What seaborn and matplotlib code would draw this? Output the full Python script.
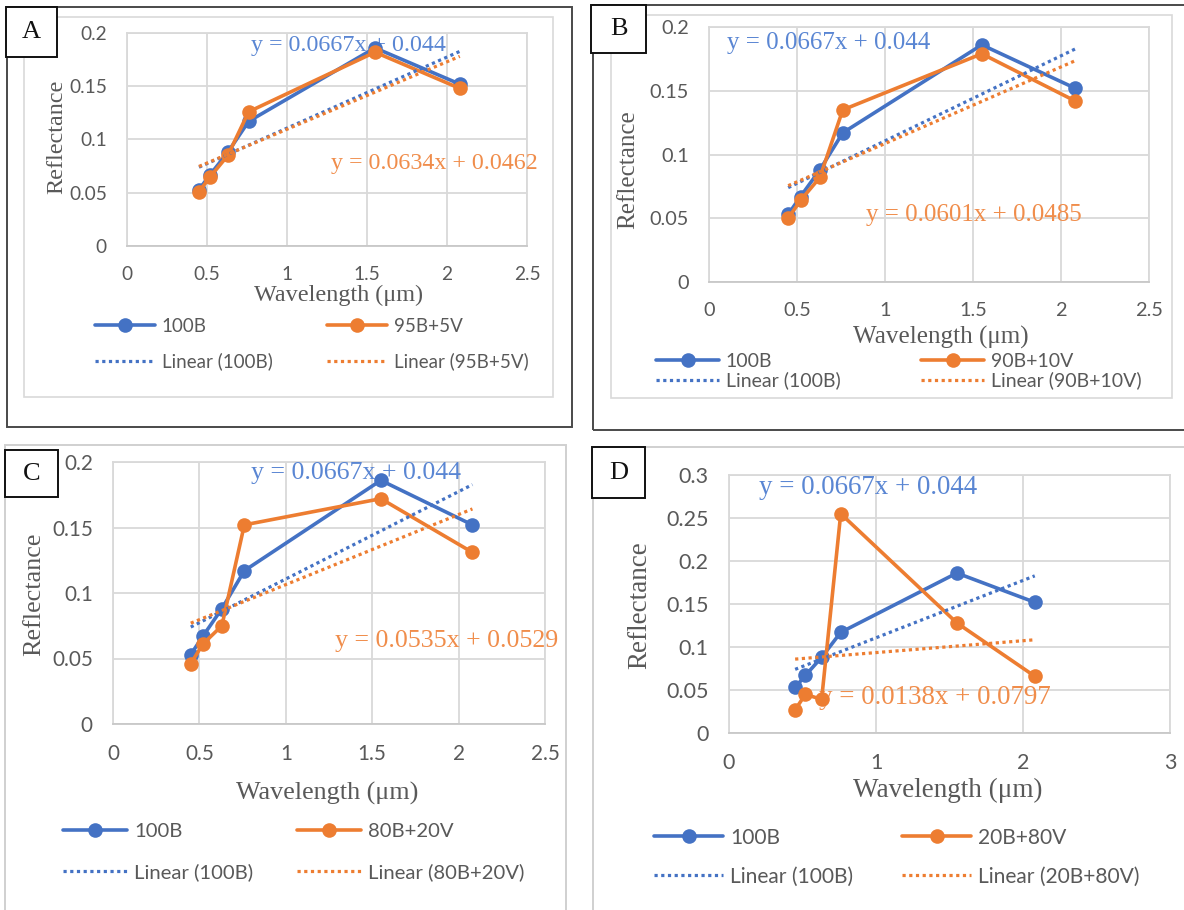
import matplotlib
matplotlib.use("Agg")
import matplotlib.pyplot as plt
import seaborn as sns
from matplotlib.patches import Rectangle
from matplotlib.ticker import FuncFormatter, FixedLocator

# ---------------- data ----------------
wavelength = [0.45, 0.52, 0.63, 0.76, 1.55, 2.08]
refl_100B = [0.053, 0.067, 0.088, 0.117, 0.186, 0.152]
refl_95B_5V = [0.051, 0.065, 0.085, 0.126, 0.182, 0.148]
refl_90B_10V = [0.050, 0.064, 0.082, 0.135, 0.179, 0.142]
refl_80B_20V = [0.046, 0.061, 0.075, 0.152, 0.172, 0.131]
refl_20B_80V = [0.027, 0.045, 0.039, 0.255, 0.128, 0.066]
mix_names = ["95B+5V", "90B+10V", "80B+20V", "20B+80V"]
mix_values = [refl_95B_5V, refl_90B_10V, refl_80B_20V, refl_20B_80V]
panel_letters = ["A", "B", "C", "D"]
slope_100B, intercept_100B = "0.0667", "0.044"
mix_slopes = ["0.0634", "0.0601", "0.0535", "0.0138"]
mix_intercepts = ["0.0462", "0.0485", "0.0529", "0.0797"]
x_ticks_abc = [0, 0.5, 1, 1.5, 2, 2.5]
y_ticks_abc = [0, 0.05, 0.1, 0.15, 0.2]
x_ticks_d = [0, 1, 2, 3]
y_ticks_d = [0, 0.05, 0.1, 0.15, 0.2, 0.25, 0.3]
x_title = "Wavelength (μm)"
y_title = "Reflectance"

# ---------------- style ----------------
BLUE = "#4472C4"
ORANGE = "#ED7D31"
BLUE_TXT = "#5a86d3"
ORANGE_TXT = "#f08d4b"
GREY_TXT = "#595959"
GRID = "#d9d9d9"
SANS = ["Lato", "DejaVu Sans"]
SERIF = ["Liberation Serif", "DejaVu Serif"]

W, H = 1184, 910
sns.set_theme(style="white")
plt.rcParams["font.family"] = SANS

fig = plt.figure(figsize=(W / 100, H / 100), dpi=100)
fig.patch.set_facecolor("white")


def fx(x):
    return x / W


def fy(y):
    return 1 - y / H


def frame(x0, y0, x1, y1, color, lw, fill=False, z=1):
    fig.patches.append(Rectangle((fx(x0), fy(y1)), fx(x1) - fx(x0), fy(y0) - fy(y1),
                                 transform=fig.transFigure, fill=fill, facecolor="white",
                                 edgecolor=color, linewidth=lw, zorder=z))


# panel layouts (pixels)
layouts = [
    dict(ax=(127, 33, 527, 246), xt=x_ticks_abc, yt=y_ticks_abc, s=1.0,
         xlab=(338, 295), ylab=(57, 137), eq1=(251, 45), eq2=(331, 163),
         leg=(95, 327, 344), lsp=0.95, hl=60,
         box=(6, 7, 57, 57)),
    dict(ax=(709, 27, 1149, 282), xt=x_ticks_abc, yt=y_ticks_abc, s=1.04,
         xlab=(941, 337), ylab=(628, 170), eq1=(727, 43), eq2=(866, 215),
         leg=(656, 921, 371), lsp=0.1, hl=63,
         box=(591, 5, 646, 53)),
    dict(ax=(113, 462, 545, 724), xt=x_ticks_abc, yt=y_ticks_abc, s=1.08,
         xlab=(327, 793), ylab=(34, 594), eq1=(251, 473), eq2=(335, 641),
         leg=(63, 297, 852), lsp=1.15, hl=64,
         box=(5, 450, 58, 497)),
    dict(ax=(729, 475, 1170, 733), xt=x_ticks_d, yt=y_ticks_d, s=1.12,
         xlab=(948, 790), ylab=(640, 605), eq1=(759, 488), eq2=(819, 697),
         leg=(654, 902, 857), lsp=0.9, hl=69,
         box=(592, 447, 645, 498)),
]

# outer frames
frame(7, 7, 572, 427, "#4a4a4a", 1.4)
frame(24, 17, 553, 397, GRID, 1.2)
frame(593, 5, 1192, 430, "#4a4a4a", 1.4)
frame(611, 15, 1172, 398, GRID, 1.2)
frame(5, 445, 566, 915, "#d0d0d0", 1.4)
frame(593, 447, 1192, 915, "#d0d0d0", 1.4)

fmt = FuncFormatter(lambda v, p: "%g" % v)

for i, lay in enumerate(layouts):
    l, t, r, b = lay["ax"]
    s = lay["s"]
    ax = fig.add_axes([fx(l), fy(b), fx(r) - fx(l), fy(t) - fy(b)])
    ax.set_facecolor("white")
    xt, yt = lay["xt"], lay["yt"]
    ax.set_xlim(xt[0], xt[-1])
    ax.set_ylim(yt[0], yt[-1])
    ax.xaxis.set_major_locator(FixedLocator(xt))
    ax.yaxis.set_major_locator(FixedLocator(yt))
    ax.xaxis.set_major_formatter(fmt)
    ax.yaxis.set_major_formatter(fmt)
    ax.grid(True, color=GRID, linewidth=1.3, zorder=0)
    ax.set_axisbelow(True)
    for sp in ax.spines.values():
        sp.set_color(GRID)
        sp.set_linewidth(1.3)
    ax.spines["bottom"].set_color("#c8c8c8")
    ax.tick_params(length=0, pad=14.5, labelsize=13.8 * s, labelcolor=GREY_TXT)
    for lab in ax.get_xticklabels() + ax.get_yticklabels():
        lab.set_family(SANS)

    mix = mix_values[i]
    name = mix_names[i]

    # series lines
    sns.lineplot(x=wavelength, y=refl_100B, ax=ax, color=BLUE, linewidth=2.6,
                 marker="o", markersize=10.5, markeredgecolor=BLUE, markeredgewidth=0,
                 legend=False, zorder=4)
    h1 = ax.lines[-1]
    sns.lineplot(x=wavelength, y=mix, ax=ax, color=ORANGE, linewidth=2.6,
                 marker="o", markersize=10.5, markeredgecolor=ORANGE, markeredgewidth=0,
                 legend=False, zorder=5)
    h2 = ax.lines[-1]

    # linear trend lines from the displayed equations
    xs = [wavelength[0], wavelength[-1]]
    m0, b0 = float(slope_100B), float(intercept_100B)
    m1, b1 = float(mix_slopes[i]), float(mix_intercepts[i])
    dots = (0, (1, 1.1))
    sns.lineplot(x=xs, y=[m0 * xv + b0 for xv in xs], ax=ax, color=BLUE,
                 linewidth=2.3, linestyle=dots, legend=False, zorder=6)
    h3 = ax.lines[-1]
    sns.lineplot(x=xs, y=[m1 * xv + b1 for xv in xs], ax=ax, color=ORANGE,
                 linewidth=2.3, linestyle=dots, legend=False, zorder=6)
    h4 = ax.lines[-1]

    # equations
    ex, ey = lay["eq1"]
    ax.text(fx(ex), fy(ey), f"y = {slope_100B}x + {intercept_100B}", transform=fig.transFigure,
            ha="left", va="center", color=BLUE_TXT, fontsize=17.3 * s, family=SERIF,
            zorder=3, clip_on=False)
    ex, ey = lay["eq2"]
    ax.text(fx(ex), fy(ey), f"y = {mix_slopes[i]}x + {mix_intercepts[i]}", transform=fig.transFigure,
            ha="left", va="center", color=ORANGE_TXT, fontsize=17.3 * s, family=SERIF,
            zorder=3, clip_on=False)

    # axis titles
    ax.set_xlabel(x_title, fontsize=17.4 * s, color=GREY_TXT, family=SERIF, va="center", ha="center")
    ax.xaxis.set_label_coords(fx(lay["xlab"][0]), fy(lay["xlab"][1]), transform=fig.transFigure)
    ax.set_ylabel(y_title, fontsize=17.4 * s, color=GREY_TXT, family=SERIF, va="center", ha="center")
    ax.yaxis.set_label_coords(fx(lay["ylab"][0]), fy(lay["ylab"][1]), transform=fig.transFigure)

    # legends (two columns)
    lfs = 13.5 * s
    hl = lay["hl"] / (lfs * 100 / 72)
    c1, c2, cy = lay["leg"]
    for (xa, hs, labs) in [(c1, [h1, h3], ["100B", "Linear (100B)"]),
                           (c2, [h2, h4], [name, f"Linear ({name})"])]:
        fig.legend(hs, labs, loc="center left", bbox_to_anchor=(fx(xa), fy(cy)),
                   bbox_transform=fig.transFigure, frameon=False, borderpad=0,
                   borderaxespad=0, handlelength=hl, handletextpad=0.35,
                   labelspacing=lay["lsp"], numpoints=1, labelcolor=GREY_TXT,
                   prop={"family": SANS, "size": lfs})

    # panel letter box
    bx0, by0, bx1, by1 = lay["box"]
    frame(bx0, by0, bx1, by1, "#111111", 1.4, fill=True, z=3)
    fig.text(fx((bx0 + bx1) / 2), fy((by0 + by1) / 2), panel_letters[i], ha="center",
             va="center", fontsize=19, family=SERIF, color="#111111", zorder=4)

fig.savefig("out.png", dpi=100, facecolor="white")
